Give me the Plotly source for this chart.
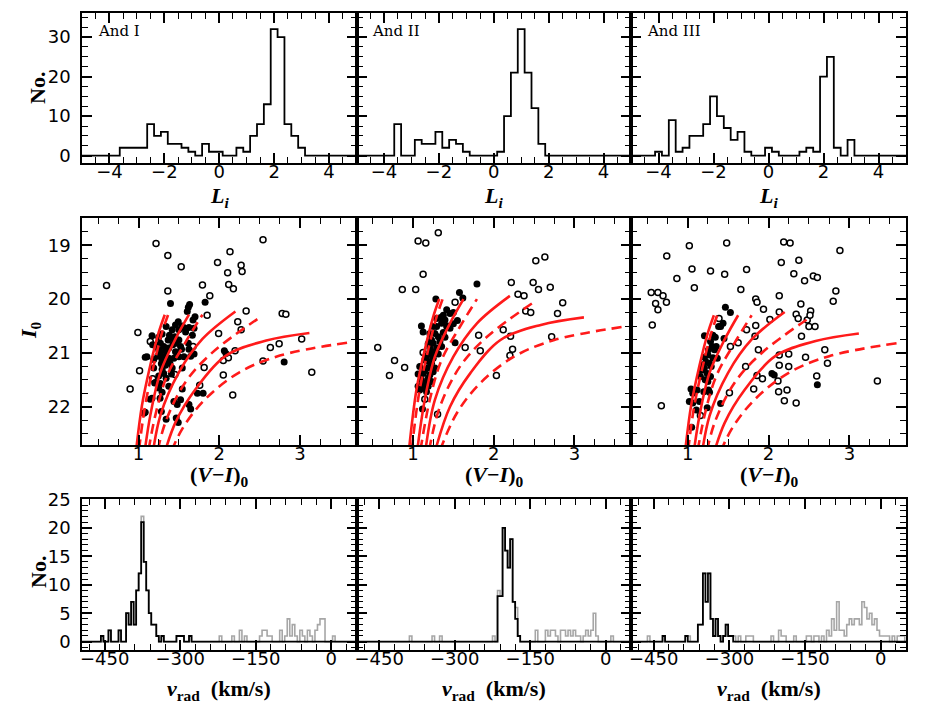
import numpy as np
import plotly.graph_objects as go

# ---- top row: L_i index histograms (bin centres, counts) ----
li_and1_c = [-3.5, -3.25, -3.0, -2.75, -2.5, -2.25, -2.0, -1.75, -1.5, -1.25, -1.0, -0.5, -0.25, 0.0,
             0.75, 1.0, 1.25, 1.5, 1.75, 2.0, 2.25, 2.5, 2.75, 3.0]
li_and1_n = [2, 2, 2, 2, 8, 5, 6, 3, 3, 2, 1, 3, 1, 1, 2, 1, 5, 8, 13, 32, 30, 8, 5, 2]
li_and2_c = [-3.5, -2.75, -2.5, -2.25, -2.0, -1.75, -1.5, -1.25, -1.0, 0.25, 0.5, 0.75, 1.0, 1.25, 1.5, 1.75]
li_and2_n = [8, 4, 3, 3, 6, 2, 4, 3, 1, 1, 10, 21, 32, 21, 12, 3]
li_and3_c = [-4.0, -3.5, -3.25, -3.0, -2.75, -2.5, -2.25, -2.0, -1.75, -1.5, -1.25, -1.0, -0.75, 0.0, 0.25,
             1.25, 1.5, 1.75, 2.0, 2.25, 2.5, 3.0]
li_and3_n = [1, 9, 1, 2, 5, 5, 8, 15, 10, 7, 4, 6, 1, 2, 1, 1, 2, 1, 20, 25, 2, 4]

# ---- middle row: CMDs, [(V-I)0, I0] ----
and1_open = [[0.604, 19.75], [1.217, 18.97], [1.363, 19.19], [1.529, 19.40], [1.363, 19.85], [1.792, 19.74],
             [1.883, 19.94], [1.979, 19.32], [2.133, 19.12], [2.104, 19.51], [2.117, 19.73], [2.175, 19.81],
             [2.271, 19.37], [2.283, 19.49], [2.542, 18.90], [2.333, 20.22], [2.229, 20.42], [2.271, 20.57],
             [1.850, 20.30], [0.992, 20.62], [1.146, 20.79], [1.992, 20.64], [2.779, 20.27], [2.825, 20.28],
             [3.021, 20.74], [2.633, 20.90], [2.742, 20.83], [2.542, 21.15], [2.050, 21.14], [2.113, 21.09],
             [2.196, 20.96], [2.050, 21.41], [1.813, 21.27], [1.450, 21.40], [1.175, 21.48], [1.013, 21.33],
             [0.896, 21.67], [1.758, 21.60], [2.167, 21.78], [3.146, 21.36], [1.675, 20.88]]
and1_mem = [[1.396, 20.08], [1.633, 20.10], [1.617, 20.15], [1.825, 20.06], [1.604, 20.23], [1.700, 20.33],
            [1.675, 20.39], [1.492, 20.42], [1.458, 20.48], [1.542, 20.50], [1.575, 20.54], [1.625, 20.53],
            [1.500, 20.57], [1.417, 20.57], [1.342, 20.51], [1.383, 20.67], [1.450, 20.70], [1.500, 20.76],
            [1.417, 20.73], [1.292, 20.65], [1.167, 20.68], [1.250, 20.71], [1.175, 20.85], [1.313, 20.88],
            [1.375, 20.91], [1.333, 20.96], [1.271, 21.02], [1.333, 21.07], [1.375, 21.10], [1.292, 21.13],
            [1.342, 21.16], [1.388, 21.19], [1.283, 21.20], [1.104, 21.07], [1.083, 21.08], [1.188, 21.12],
            [1.238, 21.06], [1.333, 21.23], [1.467, 20.82], [1.521, 20.88], [1.617, 20.82], [1.625, 20.93],
            [1.563, 21.07], [1.646, 21.06], [1.688, 21.02], [1.533, 20.93], [1.188, 21.28], [1.292, 21.31],
            [1.250, 21.43], [1.208, 21.55], [1.342, 21.47], [1.408, 21.39], [1.271, 21.57], [1.375, 21.62],
            [1.200, 21.56], [1.167, 21.84], [1.292, 21.73], [1.267, 21.84], [1.146, 21.86], [1.283, 22.09],
            [1.521, 21.87], [1.438, 21.90], [1.479, 21.96], [1.729, 21.75], [1.800, 21.75], [1.625, 21.96],
            [1.646, 22.04], [1.083, 22.10], [1.067, 22.12], [1.342, 22.23], [1.467, 22.21], [1.492, 22.29],
            [2.063, 20.96], [2.083, 21.01], [2.804, 21.17], [1.542, 21.28], [1.542, 21.67], [1.583, 20.61],
            [1.217, 20.88], [1.250, 20.94], [1.271, 20.82], [1.367, 20.76], [1.425, 20.85], [1.458, 20.98],
            [1.438, 21.10], [1.417, 21.28], [1.313, 21.38], [1.250, 21.65], [1.500, 21.07], [1.667, 20.67],
            [1.688, 20.54]]
and2_open = [[0.563, 20.90], [0.708, 21.42], [0.771, 21.14], [0.896, 21.27], [0.867, 19.82], [1.033, 19.82],
             [1.063, 18.92], [1.158, 18.96], [1.125, 19.54], [1.313, 18.77], [1.521, 20.06], [1.646, 20.90],
             [1.813, 20.67], [1.833, 20.96], [2.117, 20.57], [2.217, 19.69], [2.300, 19.91], [2.375, 19.94],
             [2.521, 19.29], [2.633, 19.22], [2.488, 19.69], [2.554, 19.82], [2.700, 19.78], [2.854, 20.07],
             [2.790, 20.27], [2.396, 20.22], [2.458, 20.25], [2.208, 20.69], [2.200, 21.05], [2.233, 20.93],
             [2.033, 21.42], [2.717, 20.70], [1.146, 21.86], [1.304, 22.14], [1.125, 20.99]]
and2_mem = [[1.283, 20.00], [1.575, 19.88], [1.617, 19.98], [1.792, 19.72], [1.417, 20.20], [1.458, 20.27],
            [1.500, 20.25], [1.375, 20.30], [1.342, 20.34], [1.396, 20.39], [1.354, 20.45], [1.292, 20.51],
            [1.417, 20.51], [1.458, 20.54], [1.500, 20.46], [1.550, 20.40], [1.250, 20.51], [1.208, 20.64],
            [1.271, 20.64], [1.313, 20.70], [1.375, 20.62], [1.396, 20.71], [1.333, 20.79], [1.250, 20.82],
            [1.188, 20.83], [1.292, 20.91], [1.354, 20.88], [1.271, 20.98], [1.208, 21.02], [1.167, 21.07],
            [1.313, 21.02], [1.250, 21.10], [1.188, 21.16], [1.125, 20.61], [1.104, 20.50], [1.229, 21.19],
            [1.188, 21.28], [1.146, 21.33], [1.250, 21.35], [1.125, 21.38], [1.063, 21.39], [1.188, 21.47],
            [1.104, 21.50], [1.229, 21.53], [1.146, 21.56], [1.063, 21.62], [1.125, 21.65], [1.188, 21.62],
            [1.083, 21.69], [1.167, 21.72], [1.117, 22.04], [1.521, 20.81], [1.429, 20.50], [1.292, 20.36],
            [1.229, 20.76], [1.208, 20.91], [1.146, 21.13], [1.271, 21.28], [1.083, 21.25], [1.208, 21.41]]
and3_open = [[0.550, 19.88], [0.633, 19.88], [0.696, 19.94], [0.604, 20.08], [0.633, 20.20], [0.738, 20.06],
             [0.563, 20.48], [0.742, 19.20], [1.021, 19.01], [1.054, 19.44], [1.083, 19.79], [0.867, 19.62],
             [1.283, 19.48], [1.458, 19.54], [1.483, 18.96], [1.658, 19.82], [1.729, 19.45], [1.842, 20.00],
             [1.858, 20.06], [1.938, 20.19], [2.017, 20.38], [2.133, 19.94], [2.133, 20.24], [2.158, 19.32],
             [2.188, 18.94], [2.267, 18.96], [2.313, 19.53], [2.375, 19.28], [2.446, 19.66], [2.400, 20.09],
             [2.342, 20.28], [2.367, 20.36], [2.479, 20.39], [2.521, 20.22], [2.513, 20.30], [2.408, 20.69],
             [2.500, 20.51], [2.575, 20.51], [2.554, 19.57], [2.604, 19.60], [2.800, 20.04], [2.833, 19.85],
             [2.883, 19.10], [2.696, 20.94], [2.729, 21.19], [2.596, 21.43], [2.458, 21.08], [2.250, 21.02],
             [2.133, 21.04], [2.133, 21.23], [2.250, 21.25], [1.875, 20.94], [1.833, 20.69], [1.842, 20.49],
             [1.729, 20.57], [1.717, 21.25], [1.625, 20.81], [1.529, 20.88], [1.517, 21.74], [1.858, 21.42],
             [1.925, 21.48], [1.817, 21.67], [2.117, 21.52], [2.125, 21.72], [2.229, 21.69], [2.196, 21.89],
             [2.342, 21.93], [3.346, 21.52], [0.675, 21.98], [1.388, 20.36], [1.158, 22.16]]
and3_mem = [[1.467, 20.15], [1.529, 20.25], [1.208, 20.68], [1.313, 20.67], [1.342, 20.71], [1.438, 20.45],
            [1.408, 20.51], [1.383, 20.51], [1.450, 20.73], [1.283, 20.79], [1.304, 20.88], [1.333, 20.94],
            [1.258, 20.94], [1.250, 21.04], [1.313, 21.09], [1.367, 21.10], [1.208, 21.08], [1.229, 21.17],
            [1.188, 21.22], [1.271, 21.19], [1.208, 21.28], [1.242, 21.38], [1.158, 21.44], [1.217, 21.50],
            [1.250, 21.53], [1.283, 21.44], [1.042, 21.67], [1.117, 21.69], [1.063, 21.75], [1.021, 21.90],
            [1.063, 21.93], [1.146, 21.90], [1.200, 21.72], [1.258, 21.69], [1.271, 21.73], [1.108, 22.06],
            [1.242, 22.02], [1.050, 22.38], [1.408, 21.94], [2.042, 21.38], [2.071, 21.41], [2.604, 21.59],
            [1.354, 20.88], [1.292, 21.25], [1.175, 21.32]]

tracks = [
    [[0.950, 22.80], [1.042, 21.69], [1.146, 20.94], [1.250, 20.33], [1.325, 20.00]],
    [[0.984, 22.80], [1.075, 21.75], [1.188, 20.94], [1.292, 20.33], [1.367, 20.00]],
    [[1.053, 22.80], [1.146, 21.87], [1.271, 21.07], [1.458, 20.45], [1.625, 20.00]],
    [[1.093, 22.80], [1.208, 21.87], [1.354, 21.13], [1.583, 20.51], [1.792, 20.00]],
    [[1.155, 22.80], [1.271, 21.87], [1.500, 21.07], [1.792, 20.45], [2.200, 19.94]],
    [[1.200, 22.80], [1.333, 22.00], [1.583, 21.25], [1.917, 20.70], [2.533, 20.02]],
    [[1.278, 22.80], [1.458, 22.00], [1.708, 21.38], [2.083, 20.76], [2.583, 20.48], [3.117, 20.34]],
    [[1.337, 22.80], [1.542, 22.12], [1.833, 21.56], [2.250, 21.07], [2.750, 20.76], [3.583, 20.52]],
]
track_shift = [0.29, 0.0, 0.30]

# ---- bottom row: radial velocity histograms, 5 km/s bins ----
vr_and1_c = [-455, -440, -420, -405, -400, -395, -390, -385, -380, -375, -370, -365, -360, -355, -350,
             -345, -335, -305, -300, -295, -280]
vr_and1_mem = [1, 2, 2, 5, 3, 7, 3, 9, 12, 21, 14, 9, 5, 3, 3, 1, 1, 1, 1, 1, 1]
vr_and1_oth_c = [-375, -220, -195, -180, -170, -140, -135, -130, -125, -120, -100, -90, -85, -80, -75,
                 -70, -60, -55, -45, -40, -30, -25, -20, -15, 5]
vr_and1_oth = [1, 1, 1, 2, 1, 1, 2, 2, 1, 1, 2, 1, 4, 1, 3, 1, 2, 1, 2, 1, 2, 3, 4, 4, 1]

vr_and2_c = [-212.5, -207.5, -202.5, -197.5, -192.5, -187.5, -182.5, -177.5, -172.5]
vr_and2_mem = [8, 8, 20, 16, 13, 18, 7, 4, 1]
vr_and2_oth_c = [-387.5, -342.5, -327.5, -222.5, -212.5, -177.5, -137.5, -117.5, -112.5, -107.5, -102.5,
                 -97.5, -87.5, -82.5, -77.5, -72.5, -67.5, -62.5, -57.5, -52.5, -42.5, -37.5, -32.5,
                 -27.5, -22.5, -17.5, 12.5]
vr_and2_oth = [1, 1, 1, 1, 1, 2, 2, 2, 1, 2, 2, 1, 2, 2, 1, 2, 1, 2, 1, 1, 1, 2, 1, 2, 5, 1, 1]

vr_and3_c = [-430, -385, -360, -355, -350, -345, -340, -335, -330, -325, -320, -310, -305, -300, -295]
vr_and3_mem = [1, 1, 3, 3, 12, 7, 12, 4, 1, 4, 1, 1, 3, 1, 1]
vr_and3_oth_c = [-460, -380, -345, -290, -280, -265, -260, -255, -215, -200, -195, -190, -170, -145, -140,
                 -130, -125, -115, -105, -100, -95, -90, -85, -80, -75, -70, -65, -60, -55, -50, -45,
                 -40, -35, -30, -25, -20, -15, -10, -5, 0, 5, 10, 15, 25, 35, 40, 45]
vr_and3_oth = [1, 1, 5, 1, 1, 1, 1, 1, 1, 2, 1, 1, 1, 1, 1, 1, 1, 1, 2, 1, 4, 2, 7, 2, 2, 1, 3, 4, 3, 4, 4,
               3, 7, 6, 4, 5, 3, 4, 2, 1, 1, 1, 1, 1, 1, 1, 1]

galaxy_names = ["And I", "And II", "And III"]


def hist_steps(centers, counts, lo, hi, width):
    """full grid of bins (zeros included) so a 'hvh' line draws the histogram"""
    base = centers[0]
    k0 = int(np.floor((lo - base) / width)) - 1
    k1 = int(np.ceil((hi - base) / width)) + 1
    grid = base + width * np.arange(k0, k1 + 1)
    table = {}
    for c, n in zip(centers, counts):
        table[round(c * 4)] = table.get(round(c * 4), 0) + n
    return grid, [table.get(round(g * 4), 0) for g in grid]


# page body has an 8px margin, so pixel positions are shifted back by it
W, H, PAD = 948, 708, 8


def px(x):
    return (x - PAD) / W


def py(y):
    return 1 - (y - PAD) / H


col_px = [82, 356.5, 631, 906]
row_px = [(13.3, 163), (218.3, 445), (499.3, 650)]
col_dom = [[px(col_px[i]), px(col_px[i + 1])] for i in range(3)]
row_dom = [[py(b), py(t)] for t, b in row_px]

fig = go.Figure()


def ax(r, c):
    k = r * 3 + c + 1
    return ("x%d" % k if k > 1 else "x"), ("y%d" % k if k > 1 else "y")


# top histograms
li_sets = [(li_and1_c, li_and1_n), (li_and2_c, li_and2_n), (li_and3_c, li_and3_n)]
for c, (lc, ln) in enumerate(li_sets):
    xa, ya = ax(0, c)
    gx, gy = hist_steps(lc, ln, -5.0, 5.0, 0.25)
    fig.add_trace(go.Scatter(x=gx, y=gy, mode="lines", line=dict(color="black", width=1.8, shape="hvh"),
                             xaxis=xa, yaxis=ya, showlegend=False, hoverinfo="skip"))

# CMDs
cmd_sets = [(and1_open, and1_mem), (and2_open, and2_mem), (and3_open, and3_mem)]
for c, (op, mem) in enumerate(cmd_sets):
    xa, ya = ax(1, c)
    fig.add_trace(go.Scatter(x=[p[0] for p in op], y=[p[1] for p in op], mode="markers",
                             marker=dict(symbol="circle", size=6, color="white",
                                         line=dict(color="black", width=1.5)),
                             xaxis=xa, yaxis=ya, showlegend=False))
    fig.add_trace(go.Scatter(x=[p[0] for p in mem], y=[p[1] for p in mem], mode="markers",
                             marker=dict(symbol="circle", size=7, color="black", line=dict(width=0)),
                             xaxis=xa, yaxis=ya, showlegend=False))
    for t, trk in enumerate(tracks):
        fig.add_trace(go.Scatter(x=[p[0] for p in trk], y=[p[1] + track_shift[c] for p in trk],
                                 mode="lines",
                                 line=dict(color="#ff1a1a", width=2.6, shape="spline",
                                           dash="solid" if t % 2 == 0 else "10px,6px"),
                                 xaxis=xa, yaxis=ya, showlegend=False, hoverinfo="skip"))

# velocity histograms
vr_sets = [(vr_and1_c, vr_and1_mem, vr_and1_oth_c, vr_and1_oth),
           (vr_and2_c, vr_and2_mem, vr_and2_oth_c, vr_and2_oth),
           (vr_and3_c, vr_and3_mem, vr_and3_oth_c, vr_and3_oth)]
for c, (mc, mn, oc, on) in enumerate(vr_sets):
    xa, ya = ax(2, c)
    gx, gy = hist_steps(list(mc) + list(oc), list(mn) + list(on), -495, 50, 5)
    fig.add_trace(go.Scatter(x=gx, y=gy, mode="lines", line=dict(color="#a6a6a6", width=1.6, shape="hvh"),
                             xaxis=xa, yaxis=ya, showlegend=False, hoverinfo="skip"))
    gx, gy = hist_steps(mc, mn, -495, 50, 5)
    fig.add_trace(go.Scatter(x=gx, y=gy, mode="lines", line=dict(color="black", width=1.8, shape="hvh"),
                             xaxis=xa, yaxis=ya, showlegend=False, hoverinfo="skip"))

tick_font = dict(family="DejaVu Sans", size=18, color="black")
base_axis = dict(showline=True, linecolor="black", linewidth=2, mirror="allticks", ticks="inside",
                 ticklen=10, tickwidth=1.5, tickcolor="black", showgrid=False, zeroline=False,
                 automargin=False, tickfont=tick_font)

x_specs = [dict(range=[-5, 5], tick0=0, dtick=2, minor=dict(dtick=0.5)),
           dict(range=[0.3, 3.7], tick0=0, dtick=1, minor=dict(dtick=0.25)),
           dict(range=[-495, 50], tick0=-450, dtick=150, minor=dict(tick0=-450, dtick=30))]
y_specs = [dict(range=[-1.85, 36], tick0=0, dtick=10, minor=dict(dtick=2.5)),
           dict(range=[22.71, 18.5], tick0=19, dtick=1, minor=dict(dtick=0.25)),
           dict(range=[-1.46, 25], tick0=0, dtick=5, minor=dict(dtick=1))]

layout_axes = {}
for r in range(3):
    for c in range(3):
        k = r * 3 + c + 1
        xa, ya = ax(r, c)
        xs = dict(base_axis, **x_specs[r])
        xs["minor"] = dict(ticks="inside", ticklen=6, tickwidth=1.3, tickcolor="black", showgrid=False,
                           **x_specs[r]["minor"])
        xs.update(domain=col_dom[c], anchor=ya, ticklabelstandoff=-9)
        ys = dict(base_axis, **y_specs[r])
        ys["minor"] = dict(ticks="inside", ticklen=6, tickwidth=1.3, tickcolor="black", showgrid=False,
                           **y_specs[r]["minor"])
        ys.update(domain=row_dom[r], anchor=xa, showticklabels=(c == 0), ticksuffix="\u00a0")
        layout_axes["xaxis" if k == 1 else "xaxis%d" % k] = xs
        layout_axes["yaxis" if k == 1 else "yaxis%d" % k] = ys

title_font = dict(family="Liberation Serif", size=22, color="black")
col_mid = [(col_px[i] + col_px[i + 1]) / 2 for i in range(3)]
notes = []
for c in range(3):
    notes.append(dict(x=px(col_mid[c]), y=py(197), text="<b><i>L</i><sub><i>i</i></sub></b>"))
    notes.append(dict(x=px(col_mid[c]), y=py(476), text="<b>(<i>V</i>\u2212<i>I</i>)<sub>0</sub></b>"))
    notes.append(dict(x=px(col_mid[c]), y=py(690), text="<b><i>v</i><sub>rad</sub>  (km/s)</b>"))
notes.append(dict(x=px(38), y=py(88), text="<b>No.</b>", textangle=-90))
notes.append(dict(x=px(38), y=py(572), text="<b>No.</b>", textangle=-90))
notes.append(dict(x=px(30), y=py(330), text="<b><i>I</i><sub>0</sub></b>", textangle=-90))
for n in notes:
    n.update(xref="paper", yref="paper", showarrow=False, xanchor="center", yanchor="middle",
             font=title_font)

gal_x = [96, 370, 645]
for c, name in enumerate(galaxy_names):
    notes.append(dict(x=px(gal_x[c]), y=py(31), xref="paper", yref="paper", text=name,
                      showarrow=False, xanchor="left", yanchor="middle",
                      font=dict(family="DejaVu Serif", size=15, color="black")))

fig.update_layout(width=W, height=H, margin=dict(l=0, r=0, t=0, b=0, autoexpand=False),
                  plot_bgcolor="white", paper_bgcolor="white", annotations=notes, **layout_axes)

fig.write_html("out.html")
